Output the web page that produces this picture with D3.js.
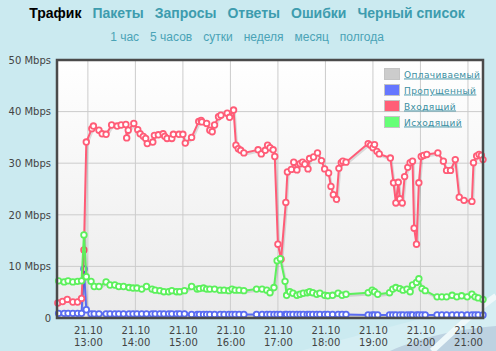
<!DOCTYPE html>
<html>
<head>
<meta charset="utf-8">
<script src="https://cdn.jsdelivr.net/npm/d3@7"></script>
<style>
  body { margin: 0; background: #cbeaf0; }
  svg { display: block; }
</style>
</head>
<body>
<div id="chart"></div>
<script>
// menu / legend texts
const menuItems = ["Трафик", "Пакеты", "Запросы", "Ответы", "Ошибки", "Черный список"];
const periodItems = ["1 час", "5 часов", "сутки", "неделя", "месяц", "полгода"];
const legendNames = ["Оплачиваемый", "Пропущенный", "Входящий", "Исходящий"];
const legendColors = ["#cccccc", "#6677ff", "#ff5f77", "#66ff77"];

// axes
const yTicks = [0, 10, 20, 30, 40, 50];
const tickHours = [13, 14, 15, 16, 17, 18, 19, 20, 21];
const tickDay = "21.10";
const timeRange = ["12:21", "21:19"];

// incoming traffic (Mbps)
const inTimes = ["12:22","12:28","12:34","12:41","12:47","12:52","12:55","12:58","13:05","13:07",
  "13:14","13:18","13:23","13:30","13:37","13:42","13:48","13:49","13:51","13:58",
  "14:03","14:06","14:10","14:13","14:15","14:22","14:24","14:29","14:35","14:37",
  "14:40","14:46","14:48","14:55","15:00","15:03","15:11","15:20","15:23","15:24",
  "15:30","15:34","15:37","15:40","15:45","15:48","15:56","15:59","16:04","16:07",
  "16:10","16:13","16:17","16:35","16:39","16:44","16:47","16:50","16:54","16:56",
  "17:00","17:04","17:10","17:12","17:17","17:20","17:24","17:28","17:31","17:34",
  "17:38","17:40","17:45","17:50","17:55","17:59","18:04","18:07","18:10","18:14",
  "18:17","18:20","18:22","18:26","18:54","18:57","19:00","19:02","19:05","19:08",
  "19:22","19:26","19:29","19:32","19:34","19:37","19:40","19:44","19:47","19:50",
  "19:52","19:55","19:58","20:01","20:04","20:08","20:22","20:29","20:33","20:38",
  "20:44","20:49","20:55","21:05","21:07","21:11","21:14","21:17","21:19"];
const inValues = [2.9,3.2,3.6,3.1,3.1,3.8,13.2,34.1,36.7,37.2,
  36.4,35.7,35.6,37.4,37.2,37.4,37.5,34.9,36.4,37.7,
  36.5,35.7,35.2,34.8,33.8,34.1,35.4,35.5,35.7,35.2,
  34.8,34.8,35.6,35.6,35.6,33.9,35.0,38.1,38.3,38.0,
  37.7,36.4,36.1,37.4,39.0,39.3,39.7,38.9,40.3,33.5,
  32.8,32.5,32.0,32.6,31.8,32.5,33.5,33.0,32.6,31.3,
  14.3,11.4,22.4,28.3,28.8,30.2,28.7,29.9,30.2,29.8,
  28.9,30.9,31.2,32.0,30.5,28.9,28.1,25.5,23.9,23.0,
  29.0,30.1,30.4,30.2,33.8,33.5,33.0,33.6,32.3,31.8,
  31.0,26.2,22.3,26.3,23.1,22.3,27.4,29.2,30.1,30.4,
  17.4,14.3,26.2,31.3,31.5,31.7,32.0,30.4,28.6,28.6,
  30.7,23.4,22.8,22.6,30.1,31.4,31.7,31.5,30.7];

// outgoing and missed traffic (Mbps), same timestamps
const outTimes = ["12:23","12:30","12:35","12:41","12:47","12:52","12:55","12:58","13:04","13:08",
  "13:14","13:23","13:28","13:34","13:39","13:45","13:52","13:57","14:02","14:08",
  "14:14","14:21","14:25","14:31","14:36","14:42","14:46","14:52","14:56","15:02",
  "15:11","15:18","15:21","15:26","15:30","15:34","15:40","15:47","15:52","15:58",
  "16:02","16:06","16:11","16:17","16:33","16:40","16:46","16:50","16:55","16:59",
  "17:03","17:09","17:11","17:15","17:19","17:24","17:28","17:32","17:37","17:40",
  "17:44","17:49","17:53","17:59","18:03","18:09","18:16","18:21","18:26","18:54",
  "18:59","19:02","19:06","19:21","19:25","19:29","19:34","19:38","19:43","19:47",
  "19:50","19:55","19:58","20:02","20:06","20:21","20:27","20:33","20:40","20:46",
  "20:52","20:59","21:05","21:09","21:13","21:19"];
const outValues = [7.2,7.0,7.2,7.0,7.1,7.2,16.1,8.0,7.1,6.1,
  6.1,7.0,6.4,6.4,6.1,6.1,5.9,5.8,5.8,5.6,
  6.1,5.6,5.4,5.3,5.1,5.1,5.3,5.1,5.1,5.3,
  6.1,5.6,5.7,5.8,5.6,5.6,5.6,5.4,5.4,5.3,
  5.6,5.4,5.4,5.3,5.6,5.6,5.4,4.9,5.9,11.1,
  11.5,7.1,4.4,5.1,4.8,4.4,4.6,4.8,4.9,5.1,
  4.9,4.6,4.8,4.4,4.3,4.4,4.8,4.4,4.6,4.9,
  5.4,5.1,4.6,4.9,5.6,5.9,5.7,5.4,5.6,5.1,
  6.4,6.9,7.6,5.7,5.3,4.1,4.1,4.1,4.4,4.1,
  4.3,4.1,4.6,4.1,3.9,3.6];
const missedValues = [0.9,0.9,0.9,0.9,0.9,0.9,9.5,1.6,0.8,0.8,
  0.8,0.8,0.8,0.8,0.8,0.8,0.8,0.8,0.8,0.8,
  0.8,0.8,0.8,0.8,0.8,0.8,0.8,0.8,0.8,0.8,
  0.7,0.7,0.7,0.7,0.7,0.7,0.7,0.7,0.7,0.7,
  0.7,0.7,0.7,0.7,0.7,0.7,0.7,0.7,0.7,0.7,
  0.7,0.7,0.7,0.7,0.7,0.7,0.7,0.7,0.7,0.7,
  0.7,0.7,0.7,0.7,0.7,0.7,0.7,0.7,0.7,0.6,
  0.6,0.6,0.6,0.6,0.6,0.6,0.6,0.6,0.6,0.6,
  0.6,0.6,0.6,0.6,0.6,0.6,0.6,0.6,0.6,0.6,
  0.6,0.6,0.6,0.6,0.6,0.6];

const width = 496, height = 351;
const plot = { left: 57, top: 60, right: 483, bottom: 318 };

function parseTime(s) {
    const p = s.split(":").map(Number);
    return new Date(2013, 9, 21, p[0], p[1]);
}

const x = d3.scaleTime()
    .domain(timeRange.map(parseTime))
    .range([plot.left, plot.right]);
const y = d3.scaleLinear()
    .domain([0, 50])
    .range([plot.bottom, plot.top]);

const svg = d3.select("#chart").append("svg")
    .attr("width", width)
    .attr("height", height);

const grad = svg.append("defs").append("linearGradient")
    .attr("id", "plotBg").attr("x1", 0).attr("y1", 0).attr("x2", 0).attr("y2", 1);
grad.append("stop").attr("offset", "0%").attr("stop-color", "#ffffff");
grad.append("stop").attr("offset", "100%").attr("stop-color", "#ebebeb");

// page background and corner decoration
svg.append("rect").attr("width", width).attr("height", height).attr("fill", "#cbeaf0");
svg.append("path").attr("d", "M300,351 C380,330 450,310 496,300 L496,351 Z").attr("fill", "#d5eef3");
svg.append("path").attr("d", "M390,351 C420,338 450,330 496,326 L496,351 Z").attr("fill", "#bdd2e1");
svg.append("path").attr("d", "M432,351 C455,330 475,310 496,296")
    .attr("fill", "none").attr("stroke", "#eef8fa").attr("stroke-width", 6);

// menu rows
function row(items, yPos, size, weight, colorFn, gap) {
    const g = svg.append("g");
    const texts = g.selectAll("text").data(items).enter().append("text")
        .attr("y", yPos)
        .style("font-family", "'Liberation Sans', Arial, sans-serif")
        .style("font-size", size + "px")
        .style("font-weight", weight)
        .attr("fill", colorFn)
        .text(d => d);
    const widths = texts.nodes().map(n => n.getComputedTextLength());
    const total = d3.sum(widths) + gap * (items.length - 1);
    let cx = 247 - total / 2;
    texts.attr("x", (d, i) => {
        const pos = cx;
        cx += widths[i] + gap;
        return pos;
    });
}
row(menuItems, 18, 14, "bold", (d, i) => i === 0 ? "#000000" : "#3d9cae", 11);
row(periodItems, 41, 12, "normal", () => "#4aa3b6", 11);

// plot area
svg.append("rect")
    .attr("x", plot.left).attr("y", plot.top)
    .attr("width", plot.right - plot.left).attr("height", plot.bottom - plot.top)
    .attr("fill", "url(#plotBg)");

const tickDates = tickHours.map(h => parseTime(h + ":00"));

svg.append("g").selectAll("line")
    .data(tickDates).enter().append("line")
    .attr("x1", d => x(d)).attr("x2", d => x(d))
    .attr("y1", plot.top).attr("y2", plot.bottom)
    .attr("stroke", "#cccccc");
svg.append("g").selectAll("line")
    .data(yTicks.slice(1, -1)).enter().append("line")
    .attr("x1", plot.left).attr("x2", plot.right)
    .attr("y1", d => y(d)).attr("y2", d => y(d))
    .attr("stroke", "#cccccc");

// series
const inData = inTimes.map((t, i) => ({ t: parseTime(t), v: inValues[i] }));
const outData = outTimes.map((t, i) => ({ t: parseTime(t), v: outValues[i] }));
const missedData = outTimes.map((t, i) => ({ t: parseTime(t), v: missedValues[i] }));

const line = d3.line().x(d => x(d.t)).y(d => y(d.v));

function drawSeries(data, color) {
    const g = svg.append("g");
    g.append("path").datum(data)
        .attr("d", line)
        .attr("transform", "translate(1,1.5)")
        .attr("fill", "none")
        .attr("stroke", "#000")
        .attr("stroke-opacity", 0.12)
        .attr("stroke-width", 2.5);
    g.append("path").datum(data)
        .attr("d", line)
        .attr("fill", "none")
        .attr("stroke", color)
        .attr("stroke-width", 2);
    g.selectAll("circle").data(data).enter().append("circle")
        .attr("cx", d => x(d.t))
        .attr("cy", d => y(d.v))
        .attr("r", 2.8)
        .attr("fill", "#ffffff")
        .attr("stroke", color)
        .attr("stroke-width", 1.8);
}
drawSeries(missedData, "#5a6cf2");
drawSeries(inData, "#ff5c77");
drawSeries(outData, "#5cf05c");

// border
svg.append("rect")
    .attr("x", plot.left).attr("y", plot.top)
    .attr("width", plot.right - plot.left).attr("height", plot.bottom - plot.top)
    .attr("fill", "none")
    .attr("stroke", "#4a4a4a")
    .attr("stroke-width", 2.5);

// y axis
const yAxis = svg.append("g")
    .attr("transform", "translate(" + plot.left + ",0)")
    .call(d3.axisLeft(y).tickValues(yTicks).tickSize(0).tickPadding(6)
        .tickFormat(d => d === 0 ? "0" : d + " Mbps"));
yAxis.select(".domain").remove();
yAxis.selectAll("text")
    .style("font-family", "'DejaVu Sans', Verdana, sans-serif")
    .style("font-size", "10px")
    .attr("fill", "#444444");

// x axis (two-line labels)
const xAxis = svg.append("g")
    .attr("transform", "translate(0," + plot.bottom + ")")
    .call(d3.axisBottom(x).tickValues(tickDates).tickSize(0).tickFormat(""));
xAxis.select(".domain").remove();
xAxis.selectAll(".tick").append("text")
    .attr("text-anchor", "middle")
    .style("font-family", "'DejaVu Sans', Verdana, sans-serif")
    .style("font-size", "10px")
    .attr("fill", "#444444")
    .each(function(d) {
        const t = d3.select(this);
        t.append("tspan").attr("x", 0).attr("y", 16).text(tickDay);
        t.append("tspan").attr("x", 0).attr("y", 28).text(d3.timeFormat("%H:%M")(d));
    });

// legend
const legend = svg.append("g").attr("transform", "translate(384,68)");
const items = legend.selectAll("g").data(legendNames).enter().append("g")
    .attr("transform", (d, i) => "translate(0," + i * 16 + ")");
items.append("rect")
    .attr("x", 0.5).attr("y", 0.5)
    .attr("width", 15).attr("height", 11)
    .attr("fill", (d, i) => legendColors[i])
    .attr("stroke", "#c4c4c4");
items.append("text")
    .attr("x", 20).attr("y", 9.5)
    .style("font-family", "'DejaVu Sans', Verdana, sans-serif")
    .style("font-size", "9px")
    .style("letter-spacing", "0.4px")
    .style("text-decoration", "underline")
    .attr("fill", "#3a8fa2")
    .text(d => d);
</script>
</body>
</html>
